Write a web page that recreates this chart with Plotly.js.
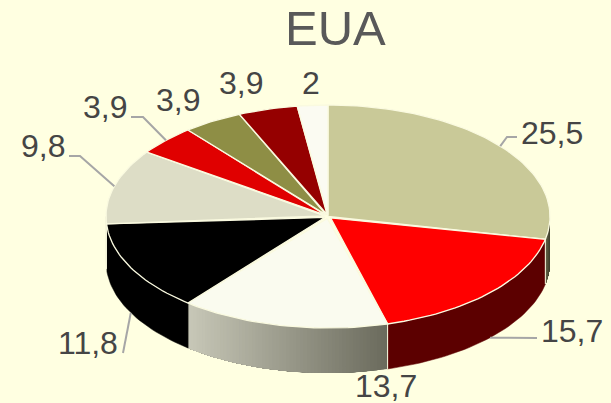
<!DOCTYPE html>
<html><head><meta charset="utf-8">
<script src="https://cdn.plot.ly/plotly-3.0.1.min.js"></script>
<style>html,body{margin:0;padding:0;background:#FFFFE1}</style></head>
<body><div id="chart" style="width:611px;height:403px"></div>
<script>
const labels = ['25,5','15,7','13,7','11,8','9,8','3,9','3,9','3,9','2'];
const values = [25.5,15.7,13.7,11.8,9.8,3.9,3.9,3.9,2];
const topColors = ['#C9C998','#FF0000','#FAFBEF','#000000','#DDDDC6','#E00000','#8E8E45','#950000','#FBFBF2'];
const wallFrom = ['#6A6A4C','#5C0000','#C8C8B8','#000000','#DDDDC6','#E00000','#8E8E45','#950000','#FBFBF2'];
const wallTo   = ['#3C3C2C','#5C0000','#6A6A5C','#000000','#DDDDC6','#E00000','#8E8E45','#950000','#FBFBF2'];
// label anchor (px) and leader elbow/end, per slice
const labelPos = [[552,133],[572,331],[386,386],[88,343],[43,146],[105,107],[178,100],[241,83],[311,83]];
const leaderKnots = [[[507,137],[517,137]],[[537,338]],[],[[123,353]],[[80,156],[69,156]],[[143,117],[131,117]],[],[],[]];
const leaderDrop = [0,1,0,1,0,0,0,0,0];
const apexShift = [0,3.5,3.5,3.5,3.5,3.5,3.5,3.5,2];

const cx=328, cy=216.5, rx=222, ry=111.5, depth=45;
const total = values.reduce((a,b)=>a+b,0);
const rim = (deg,d=0)=>{const r=deg*Math.PI/180;return [cx+rx*Math.sin(r), cy-ry*Math.cos(r)+d];};
const arc = (a,b,d=0)=>{const n=Math.max(2,Math.ceil(Math.abs(b-a)/1.5));const p=[];for(let i=0;i<=n;i++)p.push(rim(a+(b-a)*i/n,d));return p;};
const hex = c=>[1,3,5].map(i=>parseInt(c.substr(i,2),16));
const mix = (a,b,t)=>{const A=hex(a),B=hex(b);return `rgb(${A.map((v,i)=>Math.round(v+(B[i]-v)*t)).join(',')})`;};
const poly = (pts,fill,line,w)=>({type:'scatter',mode:'lines',x:pts.map(p=>p[0]),y:pts.map(p=>p[1]),fill:'toself',fillcolor:fill,line:{color:line,width:w},hoverinfo:'skip',showlegend:false});

const traces=[]; let start=0;
const spans=values.map(v=>{const a=start/total*360;start+=v;return [a,start/total*360];});
// walls (front half only)
spans.forEach(([a,b],i)=>{
  const lo=Math.max(a,90), hi=Math.min(b,270);
  if(hi<=lo) return;
  if(wallFrom[i]!==wallTo[i]){
    // Stacked strips, each covering the rest of the wall, so no seams show through
    const N=60; const xL=Math.min(rim(lo)[0],rim(hi)[0]), xR=Math.max(rim(lo)[0],rim(hi)[0]);
    for(let k=0;k<N;k++){
      const s=lo+(hi-lo)*k/N, e=lo+(hi-lo)*(k+1)/N;
      const xm=(rim(s)[0]+rim(e)[0])/2, t=(xm-xL)/(xR-xL);
      traces.push(poly([...arc(s,hi,0),...arc(hi,s,depth)],mix(wallFrom[i],wallTo[i],t),'rgba(0,0,0,0)',0));
    }
  } else {
    traces.push(poly([...arc(lo,hi,0),...arc(hi,lo,depth)],wallFrom[i],wallFrom[i],0.5));
  }
  const edges=[a,b].filter(v=>v>90&&v<270&&(v!==b||i!==3));
  edges.forEach(v=>{ const p=[rim(v),rim(v,depth)];
    traces.push({type:'scatter',mode:'lines',x:p.map(q=>q[0]),y:p.map(q=>q[1]),line:{color:i===3?'#000000':'#F2F2D8',width:1},hoverinfo:'skip',showlegend:false});});
});
// top faces
spans.forEach(([a,b],i)=>{
  const m=(a+b)/2*Math.PI/180;
  const apex=[cx+apexShift[i]*Math.sin(m), cy-apexShift[i]*0.6*Math.cos(m)];
  traces.push(poly([apex,...arc(a,b),apex],topColors[i],'#FAFAE0',1.3));
});
// leaders and labels
const annotations=[];
spans.forEach(([a,b],i)=>{
  const s=rim((a+b)/2, leaderDrop[i]?depth:0);
  if(leaderKnots[i].length){
    const p=[s,...leaderKnots[i]];
    traces.push({type:'scatter',mode:'lines',x:p.map(q=>q[0]),y:p.map(q=>q[1]),line:{color:'#A6A6A6',width:2},hoverinfo:'skip',showlegend:false});
  }
  annotations.push({xref:'x',yref:'y',x:labelPos[i][0],y:labelPos[i][1],text:labels[i],showarrow:false,xanchor:'center',yanchor:'middle',font:{family:'Liberation Sans, Arial, sans-serif',size:32,color:'#454545'}});
});
annotations.push({xref:'x',yref:'y',x:335,y:28,text:'EUA',showarrow:false,xanchor:'center',yanchor:'middle',font:{family:'Liberation Sans, Arial, sans-serif',size:49,color:'#595959'}});

Plotly.newPlot('chart',traces,{
  width:611,height:403,margin:{l:0,r:0,t:0,b:0},
  paper_bgcolor:'#FFFFE1',plot_bgcolor:'#FFFFE1',showlegend:false,
  xaxis:{range:[0,611],visible:false,fixedrange:true},
  yaxis:{range:[403,0],visible:false,fixedrange:true},
  annotations
},{displayModeBar:false,staticPlot:true});
</script></body></html>
